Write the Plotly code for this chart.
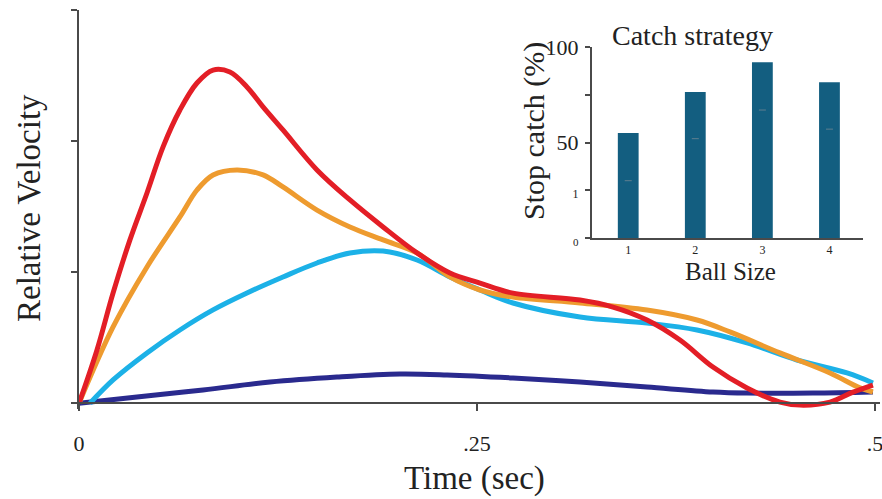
import plotly.graph_objects as go

# ---- main chart data (time in sec, relative velocity) ----
red_t = [0, 0.0113, 0.0214, 0.032, 0.0427, 0.0528, 0.0634, 0.0741, 0.0842, 0.0948, 0.1055, 0.1156, 0.1281,
         0.1495, 0.1702, 0.191, 0.2123, 0.233, 0.2519, 0.2726, 0.3147, 0.3354, 0.3568, 0.3775, 0.3982,
         0.4196, 0.4403, 0.4529, 0.4717, 0.4862, 0.4987]
red_v = [0, 0.407, 0.841, 1.246, 1.604, 1.956, 2.237, 2.443, 2.542, 2.527, 2.413, 2.261, 2.085,
         1.780, 1.551, 1.345, 1.147, 0.994, 0.917, 0.840, 0.787, 0.734, 0.635, 0.482, 0.276,
         0.116, 0.009, -0.014, 0.009, 0.085, 0.139]

orange_t = [0, 0.0214, 0.0427, 0.0634, 0.0741, 0.0842, 0.0992, 0.1156, 0.1281, 0.1495, 0.1702, 0.191, 0.2123,
            0.233, 0.2519, 0.2726, 0.3147, 0.3568, 0.3882, 0.4089, 0.4403, 0.4717, 0.4906, 0.4987]
orange_v = [0, 0.582, 1.040, 1.421, 1.627, 1.742, 1.780, 1.742, 1.650, 1.474, 1.345, 1.246, 1.147,
            0.964, 0.864, 0.810, 0.765, 0.711, 0.635, 0.544, 0.384, 0.231, 0.117, 0.086]

cyan_t = [0.0069, 0.0214, 0.0427, 0.0634, 0.0842, 0.1055, 0.1281, 0.1495, 0.1702, 0.191, 0.2123, 0.233, 0.2519,
          0.2726, 0.3147, 0.3568, 0.3882, 0.4196, 0.451, 0.4824, 0.4987]
cyan_v = [0, 0.178, 0.384, 0.559, 0.712, 0.841, 0.963, 1.070, 1.146, 1.161, 1.093, 0.963, 0.864,
          0.765, 0.658, 0.612, 0.559, 0.460, 0.330, 0.231, 0.155]

navy_t = [0, 0.0364, 0.0779, 0.120, 0.162, 0.2016, 0.2312, 0.2726, 0.3147, 0.3568, 0.3982, 0.4196, 0.461, 0.4987]
navy_v = [0, 0.048, 0.101, 0.162, 0.200, 0.223, 0.216, 0.193, 0.162, 0.124, 0.086, 0.078, 0.078, 0.086]

x_tickvals = [0, 0.25, 0.5]
x_ticktext = ["0", ".25", ".5"]
y_tickvals = [0, 1, 2, 3]

# ---- inset data ----
ball_size = [1, 2, 3, 4]
stop_catch = [55, 76.5, 92, 81.5]
inner_marks = [30, 52, 67, 57]
inset_tickvals = [0, 25, 50, 75, 100]
inset_ticktext = ['<span style="font-size:11px">0</span>', '<span style="font-size:12px">1</span>',
                  '50', '', '100']

RED, ORANGE, CYAN, NAVY, BAR = "#E31E26", "#EE9B2F", "#1CB1E7", "#2A2A8E", "#135E80"
AX = "#4a4a4a"
SERIF = "Liberation Serif, Times New Roman, serif"

W, H = 882, 499
xr = [0, 0.503]
yr = [-0.04, 3.0]
xdom = [79 / W, (79 + 0.503 * 1592) / W]
ydom = [(H - 408.5) / H, (H - 10) / H]
xpos = ydom[0] + (0 - yr[0]) / (yr[1] - yr[0]) * (ydom[1] - ydom[0])

fig = go.Figure()
for t, v, c in [(navy_t, navy_v, NAVY), (cyan_t, cyan_v, CYAN), (orange_t, orange_v, ORANGE), (red_t, red_v, RED)]:
    fig.add_trace(go.Scatter(x=t, y=v, mode="lines", line=dict(color=c, width=5, shape="spline", smoothing=1.0),
                             xaxis="x", yaxis="y", showlegend=False, hoverinfo="skip"))

fig.add_trace(go.Bar(x=ball_size, y=stop_catch, width=0.31, marker=dict(color=BAR, line=dict(width=0)),
                     xaxis="x2", yaxis="y2", showlegend=False))
fig.add_trace(go.Scatter(x=ball_size, y=inner_marks, mode="markers",
                         marker=dict(symbol="line-ew", size=5, line=dict(color="#5f7f8f", width=1)),
                         xaxis="x2", yaxis="y2", showlegend=False, hoverinfo="skip"))

fig.update_layout(
    width=W, height=H, margin=dict(l=0, r=0, t=0, b=0, autoexpand=False),
    paper_bgcolor="white", plot_bgcolor="white",
    font=dict(family=SERIF, color="#222"),
    xaxis=dict(domain=xdom, range=xr, anchor="free", position=xpos, showline=True, linecolor=AX, linewidth=2,
               showgrid=False, zeroline=False, tickmode="array", tickvals=x_tickvals, ticktext=x_ticktext,
               ticks="outside", ticklen=7, tickwidth=2, tickcolor=AX, tickfont=dict(size=22, family=SERIF),
               ticklabelstandoff=13, automargin=False, ticklabeloverflow="allow"),
    yaxis=dict(domain=ydom, range=yr, anchor="x", showline=True, linecolor=AX, linewidth=2,
               showgrid=False, zeroline=False, tickmode="array", tickvals=y_tickvals, showticklabels=False,
               ticks="outside", ticklen=6, tickwidth=2, tickcolor=AX, automargin=False),
    xaxis2=dict(domain=[592 / W, 863 / W], range=[0.46, 4.5], anchor="y2", showline=True, linecolor=AX,
                linewidth=2, showgrid=False, zeroline=False, tickmode="array", tickvals=ball_size,
                ticks="", tickfont=dict(size=12, family=SERIF), ticklabelstandoff=0, automargin=False),
    yaxis2=dict(domain=[(H - 238) / H, (H - 47) / H], range=[0, 100], anchor="x2", showline=True, linecolor=AX,
                linewidth=2, showgrid=False, zeroline=False, tickmode="array", tickvals=inset_tickvals,
                ticktext=inset_ticktext, ticks="outside", ticklen=5, tickwidth=1.5, tickcolor=AX,
                tickfont=dict(size=22, family=SERIF), ticklabelstandoff=2, automargin=False),
    annotations=[
        dict(text="Relative Velocity", x=29 / W, y=(H - 208) / H, xref="paper", yref="paper", textangle=-90,
             showarrow=False, font=dict(size=33, family=SERIF, color="#222"), xanchor="center", yanchor="middle"),
        dict(text="Time (sec)", x=474 / W, y=(H - 478) / H, xref="paper", yref="paper",
             showarrow=False, font=dict(size=33, family=SERIF, color="#222"), xanchor="center", yanchor="middle"),
        dict(text="Catch strategy", x=692 / W, y=(H - 36) / H, xref="paper", yref="paper",
             showarrow=False, font=dict(size=28, family=SERIF, color="#222"), xanchor="center", yanchor="middle"),
        dict(text="Stop catch (%)", x=534 / W, y=(H - 131) / H, xref="paper", yref="paper", textangle=-90,
             showarrow=False, font=dict(size=30, family=SERIF, color="#222"), xanchor="center", yanchor="middle"),
        dict(text="Ball Size", x=730 / W, y=(H - 271) / H, xref="paper", yref="paper",
             showarrow=False, font=dict(size=25, family=SERIF, color="#222"), xanchor="center", yanchor="middle"),
    ],
)

fig.write_html("out.html")
